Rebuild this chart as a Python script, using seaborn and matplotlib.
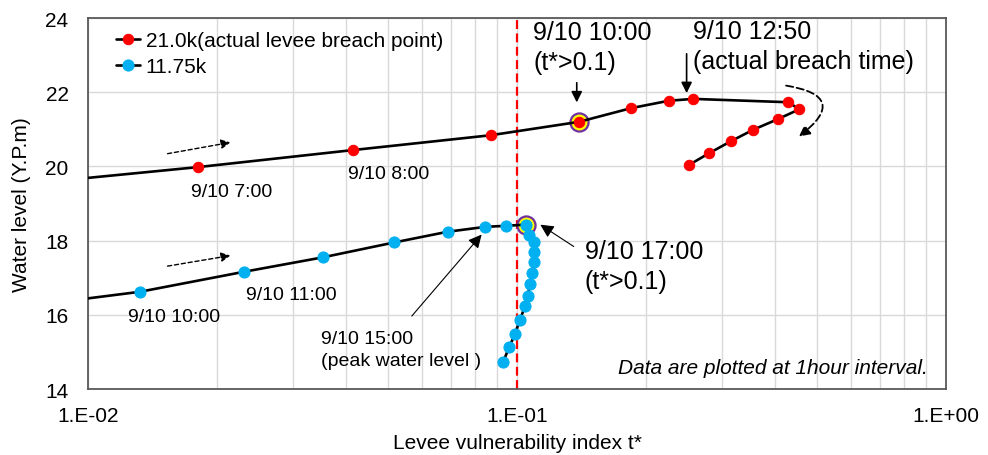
import numpy as np
import pandas as pd
import seaborn as sns
import matplotlib.pyplot as plt
from matplotlib.ticker import FuncFormatter, NullFormatter, MultipleLocator

# --- data (t* on log axis, water level Y.P.m) ---
t_red = [0.0075, 0.0180, 0.0414, 0.0868, 0.1393, 0.1844, 0.2258, 0.2576,
         0.4290, 0.4550, 0.4066, 0.3555, 0.3153, 0.2798, 0.2517]
wl_red = [19.55, 19.98, 20.44, 20.84, 21.20, 21.57, 21.77, 21.82,
          21.73, 21.54, 21.28, 20.99, 20.68, 20.35, 20.04]

t_blue = [0.0075, 0.0132, 0.0231, 0.0353, 0.0517, 0.0690, 0.0842, 0.0943,
          0.1049, 0.1066, 0.1095, 0.1097, 0.1094, 0.1086, 0.1072, 0.1059,
          0.1044, 0.1016, 0.0989, 0.0958, 0.0929]
wl_blue = [16.26, 16.62, 17.16, 17.55, 17.95, 18.24, 18.37, 18.40,
           18.43, 18.16, 17.95, 17.68, 17.42, 17.13, 16.82, 16.51,
           16.23, 15.87, 15.48, 15.12, 14.74]

red_label = '21.0k(actual levee breach point)'
blue_label = '11.75k'
hl_red = 4    # 9/10 10:00
hl_blue = 8   # 9/10 17:00
threshold = 0.1

df_red = pd.DataFrame({'t': t_red, 'wl': wl_red})
df_blue = pd.DataFrame({'t': t_blue, 'wl': wl_blue})

sns.set_style('white')
plt.rcParams['font.family'] = ['Liberation Sans', 'DejaVu Sans']
plt.rcParams['text.color'] = 'black'
plt.rcParams['axes.labelcolor'] = 'black'
plt.rcParams['xtick.color'] = 'black'
plt.rcParams['ytick.color'] = 'black'

fig, ax = plt.subplots(figsize=(9.88, 4.56), dpi=100)
fig.subplots_adjust(left=0.0891, right=0.9575, bottom=0.1447, top=0.9583)

ax.set_xscale('log')
ax.set_xlim(0.01, 1)
ax.set_ylim(14, 24)

# grid
ax.grid(which='major', axis='both', color='#d9d9d9', lw=1.0)
ax.grid(which='minor', axis='x', color='#d9d9d9', lw=1.0)
ax.set_axisbelow(True)

# threshold line
ax.axvline(threshold, color='red', ls=(0, (4, 2)), lw=1.6, zorder=1.5)

# highlight circles
ax.scatter([t_red[hl_red], t_blue[hl_blue]], [wl_red[hl_red], wl_blue[hl_blue]],
           s=170, facecolor='yellow', edgecolor='#7030a0', linewidth=1.6, zorder=2.5)

sns.lineplot(data=df_red, x='t', y='wl', sort=False, estimator=None, ax=ax,
             color='black', lw=1.9, marker='o', markersize=7.5,
             markerfacecolor='red', markeredgecolor='red', label=red_label, zorder=3)
sns.lineplot(data=df_blue, x='t', y='wl', sort=False, estimator=None, ax=ax,
             color='black', lw=1.9, marker='o', markersize=8,
             markerfacecolor='#00b0f0', markeredgecolor='#00b0f0', label=blue_label, zorder=3)

# axes formatting
ax.xaxis.set_major_formatter(FuncFormatter(
    lambda v, p: '{0}.E{1}'.format(*f'{v:.0E}'.split('E'))))
ax.xaxis.set_minor_formatter(NullFormatter())
ax.yaxis.set_major_locator(MultipleLocator(2))
ax.tick_params(which='both', length=0, labelsize=15)
ax.tick_params(axis='y', pad=14)
ax.tick_params(axis='x', pad=12)
for s in ax.spines.values():
    s.set_color('#595959')
    s.set_linewidth(1.3)

ax.set_xlabel('Levee vulnerability index t*', fontsize=15, labelpad=6)
ax.set_ylabel('Water level (Y.P.m)', fontsize=15, labelpad=10)

leg = ax.legend(loc='upper left', bbox_to_anchor=(0.033, 0.965), frameon=False,
                fontsize=15, handlelength=1.15, handletextpad=0.25,
                labelspacing=0.35, borderpad=0, borderaxespad=0)

# time labels
small = dict(fontsize=14, ha='center', va='center')
ax.text(0.0216, 19.32, '9/10 7:00', **small)
ax.text(0.0501, 19.82, '9/10 8:00', **small)
ax.text(0.0159, 15.95, '9/10 10:00', **small)
ax.text(0.0298, 16.54, '9/10 11:00', **small)
ax.text(0.0349, 15.06, '9/10 15:00\n(peak water level )', fontsize=14,
        ha='left', va='center', linespacing=1.4)

big = dict(fontsize=18, ha='left', va='center', linespacing=1.3)
ax.text(0.109, 23.22, '9/10 10:00\n(t*>0.1)', **big)
ax.text(0.2568, 23.25, '9/10 12:50\n(actual breach time)', **big)
ax.text(0.1440, 17.32, '9/10 17:00\n(t*>0.1)', **big)

ax.text(0.979, 0.059, 'Data are plotted at 1hour interval.', transform=ax.transAxes,
        fontsize=15, style='italic', ha='right', va='center')

# arrows
solid = dict(arrowstyle='-|>', color='black', lw=1.2, mutation_scale=16)
thin = dict(arrowstyle='-|>', color='black', lw=0.8, mutation_scale=20)
ax.annotate('', xy=(0.1378, 21.65), xytext=(0.1378, 22.33), arrowprops=solid)
ax.annotate('', xy=(0.2485, 21.90), xytext=(0.2485, 23.11), arrowprops=solid)
ax.annotate('', xy=(0.1119, 18.47), xytext=(0.1373, 17.80), arrowprops=thin)
ax.annotate('', xy=(0.0835, 18.22), xytext=(0.0563, 15.91), arrowprops=thin)

dashed = dict(arrowstyle='-|>', color='black', lw=1.0, ls=(0, (3, 2)), mutation_scale=14)
ax.annotate('', xy=(0.0218, 20.66), xytext=(0.0151, 20.33), arrowprops=dashed)
ax.annotate('', xy=(0.0218, 17.61), xytext=(0.0151, 17.30), arrowprops=dashed)
curved = dict(arrowstyle='-|>', color='black', lw=1.3, ls=(0, (4, 2)), mutation_scale=16,
              connectionstyle='arc3,rad=-1.2')
ax.annotate('', xy=(0.4487, 20.76), xytext=(0.4176, 22.19), arrowprops=curved)

fig.savefig('out.png', dpi=100)
